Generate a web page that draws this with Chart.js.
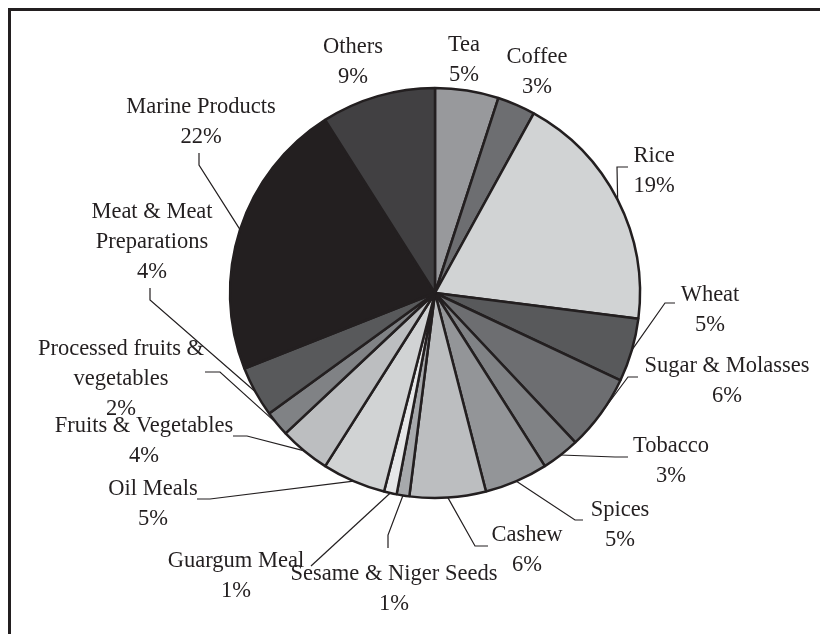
<!DOCTYPE html>
<html>
<head>
<meta charset="utf-8">
<title>Agricultural exports share</title>
<script src="https://cdn.jsdelivr.net/npm/chart.js@4.4.1/dist/chart.umd.min.js"></script>
<style>
  html, body { margin: 0; padding: 0; background: #fff; }
  #wrap { position: relative; width: 820px; height: 634px; overflow: hidden; }
  #frame {
    position: absolute; left: 8px; top: 8px;
    width: 900px; height: 900px;
    border: 3px solid #231f20; box-sizing: border-box;
  }
  #exportPie { position: absolute; left: 0; top: 0; }
</style>
</head>
<body>
<div id="wrap">
  <div id="frame"></div>
  <canvas id="exportPie" width="820" height="634"></canvas>
</div>
<script>
// slices run clockwise from 12 o'clock
const categories = [
    'Tea', 'Coffee', 'Rice', 'Wheat', 'Sugar & Molasses', 'Tobacco', 'Spices',
    'Cashew', 'Sesame & Niger Seeds', 'Guargum Meal', 'Oil Meals',
    'Fruits & Vegetables', 'Processed fruits & vegetables',
    'Meat & Meat Preparations', 'Marine Products', 'Others'
];
const shares = [5, 3, 19, 5, 6, 3, 5, 6, 1, 1, 5, 4, 2, 4, 22, 9];

const sliceColors = [
    '#98999c', '#6d6e71', '#d1d3d4', '#58595b', '#6d6e71', '#808285', '#939598',
    '#bcbec0', '#a7a9ac', '#e6e7e8', '#d1d3d4', '#bcbec0', '#808285',
    '#58595b', '#231f20', '#414042'
];

// words kept on the first line for the long names
const labelBreaks = {
    'Processed fruits & vegetables': 3,
    'Meat & Meat Preparations': 3
};

const INK = '#231f20';
const FONT_SIZE = 22.5;
const LINE_GAP = 30;

// label anchor (centre x, first baseline) and leader path after it leaves the rim
const labelSpots = [
    { x: 464, y: 51 },
    { x: 537, y: 63 },
    { x: 654, y: 162, leader: [[617, 167], [628, 167]] },
    { x: 710, y: 301, leader: [[665, 303], [675, 303]] },
    { x: 727, y: 372, leader: [[628, 377], [638, 377]] },
    { x: 671, y: 452, leader: [[615, 457], [628, 457]] },
    { x: 620, y: 516, leader: [[575, 520], [583, 520]] },
    { x: 527, y: 541, leader: [[475, 546], [488, 546]] },
    { x: 394, y: 580, leader: [[388, 535], [388, 548]] },
    { x: 236, y: 567, leader: [[311, 566]] },
    { x: 153, y: 495, leader: [[210, 499], [197, 499]] },
    { x: 144, y: 432, leader: [[247, 436], [233, 436]] },
    { x: 121, y: 355, leader: [[220, 372], [205, 372]] },
    { x: 152, y: 218, leader: [[150, 300], [150, 288]] },
    { x: 201, y: 113, leader: [[199, 165], [199, 153]] },
    { x: 353, y: 53 }
];

function splitName(name) {
    const cut = labelBreaks[name];
    if (!cut) return [name];
    const words = name.split(' ');
    return [words.slice(0, cut).join(' '), words.slice(cut).join(' ')];
}

const outsideLabels = {
    id: 'outsideLabels',
    afterDatasetsDraw(chart) {
        const ctx = chart.ctx;
        const arcs = chart.getDatasetMeta(0).data;
        ctx.save();
        ctx.font = FONT_SIZE + 'px "Liberation Serif", "Times New Roman", serif';
        ctx.fillStyle = INK;
        ctx.strokeStyle = INK;
        ctx.lineWidth = 1.2;
        ctx.textAlign = 'center';
        ctx.textBaseline = 'alphabetic';

        arcs.forEach((arc, i) => {
            const spot = labelSpots[i];
            const { x, y, startAngle, endAngle, outerRadius } =
                arc.getProps(['x', 'y', 'startAngle', 'endAngle', 'outerRadius'], true);
            const mid = (startAngle + endAngle) / 2;

            if (spot.leader) {
                ctx.beginPath();
                ctx.moveTo(x + Math.cos(mid) * outerRadius, y + Math.sin(mid) * outerRadius);
                spot.leader.forEach(p => ctx.lineTo(p[0], p[1]));
                ctx.stroke();
            }

            const lines = [...splitName(categories[i]), shares[i] + '%'];
            lines.forEach((text, k) => ctx.fillText(text, spot.x, spot.y + k * LINE_GAP));
        });
        ctx.restore();
    }
};

const ctx = document.getElementById('exportPie').getContext('2d');
new Chart(ctx, {
    type: 'pie',
    data: {
        labels: categories,
        datasets: [{
            data: shares,
            backgroundColor: sliceColors,
            borderColor: INK,
            borderWidth: 2.5
        }]
    },
    options: {
        responsive: false,
        animation: false,
        layout: {
            padding: { left: 228.75, right: 178.75, top: 86.75, bottom: 134.75 }
        },
        plugins: {
            legend: { display: false },
            tooltip: { enabled: false }
        }
    },
    plugins: [outsideLabels]
});
</script>
</body>
</html>
